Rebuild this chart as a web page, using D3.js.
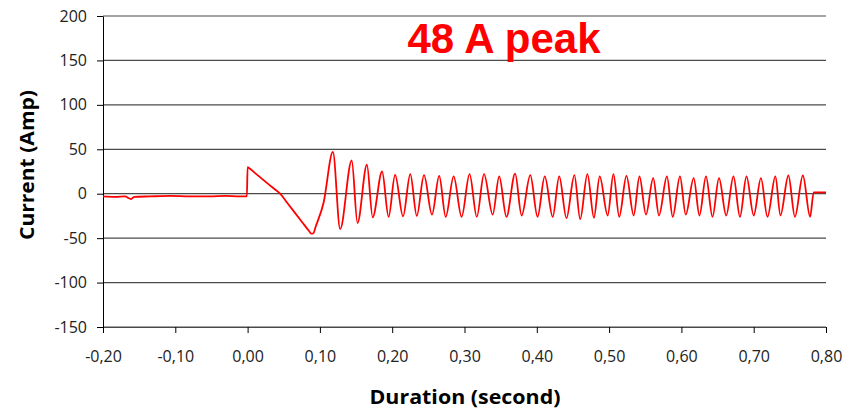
<!DOCTYPE html>
<html>
<head>
<meta charset="utf-8">
<script src="https://cdn.jsdelivr.net/npm/d3@7"></script>
<style>
body { margin:0; background:#fff; }
svg { display:block; }
</style>
</head>
<body>
<svg id="chart"></svg>
<script>
// data (seconds, amps)
var timeSec = [
    -0.200, -0.183, -0.170, -0.161, -0.157, -0.135, -0.107, -0.080, -0.052, -0.031, -0.011, -0.001,
    0.000, 0.002, 0.010, 0.020, 0.030, 0.038, 0.045, 0.055, 0.065, 0.075, 0.085, 0.088, 0.091,
    0.094, 0.105, 0.118,
    0.128, 0.144, 0.152, 0.165, 0.173, 0.186, 0.195, 0.204, 0.215, 0.225,
    0.234, 0.244, 0.255, 0.265, 0.274, 0.285, 0.296, 0.307, 0.317, 0.327,
    0.339, 0.348, 0.358, 0.370, 0.379, 0.391, 0.401, 0.411, 0.422, 0.431,
    0.441, 0.452, 0.460, 0.470, 0.479, 0.487, 0.498, 0.506, 0.514, 0.524,
    0.534, 0.542, 0.551, 0.561, 0.569, 0.580, 0.588, 0.598, 0.606, 0.617,
    0.625, 0.634, 0.643, 0.652, 0.662, 0.672, 0.681, 0.690, 0.700, 0.710,
    0.719, 0.730, 0.737, 0.748, 0.757, 0.768, 0.778,
    0.783, 0.800
];
var currentAmp = [
    -3, -3.5, -3, -6, -3.5, -3, -2.5, -3, -3, -2.5, -3, -3,
    30, 29, 23.5, 16.7, 10, 4.7, 0, -10.5, -21, -31.5, -42, -45, -44.5,
    -37.5, -10.5, 47,
    -39.7, 37.4, -33, 32.6, -26.6, 25, -26, 21.3, -25.5, 22.1,
    -25, 21, -23.5, 20, -26, 19.5, -26, 22, -26, 22,
    -23.5, 19.5, -26, 22.5, -24.5, 21, -26, 19.5, -26, 19.5,
    -27.5, 21, -28.5, 22, -27, 19.5, -24.5, 22, -26, 20,
    -24.5, 19.5, -23.5, 17.5, -24.5, 19.5, -26, 19.5, -23.5, 17.5,
    -24.5, 19.5, -26, 17.5, -24.5, 19.5, -26, 19.5, -24.5, 17.5,
    -26, 19.5, -24.5, 20.5, -26, 20.5, -26,
    1.5, 1.5
];
var xTicks = [-0.2, -0.1, 0, 0.1, 0.2, 0.3, 0.4, 0.5, 0.6, 0.7, 0.8];
var yTicks = [-150, -100, -50, 0, 50, 100, 150, 200];
var peakLabel = "48 A peak";
var xTitle = "Duration (second)";
var yTitle = "Current (Amp)";

var screen = {width:857, height:409};
var margins = {left:103, right:31, top:16, bottom:82};

var svg = d3.select("#chart")
    .attr("width", screen.width)
    .attr("height", screen.height);

var xScale = d3.scaleLinear()
    .domain([-0.2, 0.8])
    .range([margins.left, screen.width - margins.right]);
var yScale = d3.scaleLinear()
    .domain([-150, 200])
    .range([screen.height - margins.bottom, margins.top]);

var loc = d3.formatLocale({decimal:",", thousands:".", grouping:[3], currency:["", ""], minus:"-"});
var fmtX = loc.format(".2f");
var fmtY = loc.format("d");

// horizontal gridlines
svg.append("g")
    .selectAll("line")
    .data(yTicks)
    .enter()
    .append("line")
    .attr("x1", xScale(-0.2))
    .attr("x2", xScale(0.8))
    .attr("y1", function(d){ return yScale(d); })
    .attr("y2", function(d){ return yScale(d); })
    .attr("stroke", "#4a4a4a")
    .attr("stroke-width", 1.2);

var yAxis = svg.append("g")
    .attr("transform", "translate(" + margins.left + ",0)")
    .call(d3.axisLeft(yScale).tickValues(yTicks).tickFormat(fmtY).tickSize(6).tickPadding(10).tickSizeOuter(0));

var xAxis = svg.append("g")
    .attr("transform", "translate(0," + yScale(-150) + ")")
    .call(d3.axisBottom(xScale).tickValues(xTicks).tickFormat(fmtX).tickSize(6).tickPadding(18).tickSizeOuter(0));
xAxis.select(".domain").attr("stroke", "#4a4a4a").attr("stroke-width", 1.2);

svg.selectAll(".tick text")
    .attr("font-family", "'Open Sans', sans-serif")
    .attr("font-size", 16)
    .attr("fill", "#222");
svg.selectAll(".tick line").attr("stroke", "#000");
yAxis.select(".domain").attr("stroke", "#000");

// trace
var line = d3.line()
    .x(function(d, i){ return xScale(timeSec[i]); })
    .y(function(d){ return yScale(d); })
    .curve(d3.curveMonotoneX);

svg.append("path")
    .datum(currentAmp)
    .attr("d", line)
    .attr("fill", "none")
    .attr("stroke", "#ff0000")
    .attr("stroke-width", 1.8)
    .attr("stroke-linejoin", "round");

// titles
svg.append("text")
    .attr("x", 504)
    .attr("y", 53)
    .attr("text-anchor", "middle")
    .attr("font-family", "'Liberation Sans', Arial, sans-serif")
    .attr("font-weight", "bold")
    .attr("font-size", 42)
    .attr("fill", "#ff0000")
    .text(peakLabel);

svg.append("text")
    .attr("x", 465)
    .attr("y", 403.5)
    .attr("text-anchor", "middle")
    .attr("font-family", "'Open Sans', sans-serif")
    .attr("font-weight", "bold")
    .attr("font-size", 20)
    .attr("textLength", 191)
    .attr("lengthAdjust", "spacingAndGlyphs")
    .attr("fill", "#000")
    .text(xTitle);

svg.append("text")
    .attr("transform", "translate(34,165) rotate(-90)")
    .attr("text-anchor", "middle")
    .attr("font-family", "'Open Sans', sans-serif")
    .attr("font-weight", "bold")
    .attr("font-size", 20)
    .attr("textLength", 150)
    .attr("lengthAdjust", "spacingAndGlyphs")
    .attr("fill", "#000")
    .text(yTitle);
</script>
</body>
</html>
